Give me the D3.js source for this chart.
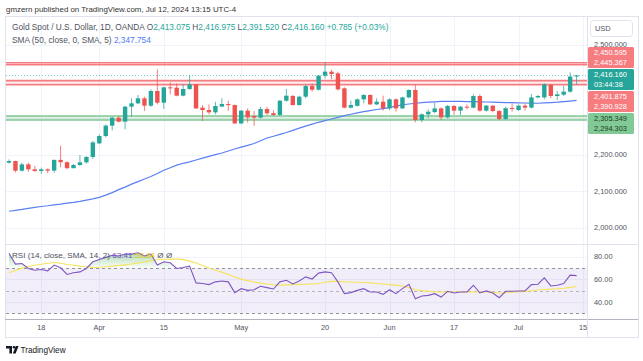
<!DOCTYPE html>
<html>
<head>
<meta charset="utf-8">
<script src="https://cdn.jsdelivr.net/npm/d3@7"></script>
<style>
  html, body { margin: 0; padding: 0; background: #fff; }
  svg { display: block; font-family: "Liberation Sans", Arial, sans-serif; }
</style>
</head>
<body>
<svg id="chart" width="643" height="361"></svg>
<script>
// daily bars, XAUUSD (OANDA), 2024-03-11 .. 2024-07-12
const firstDay = '2024-03-11'
const lastDay = '2024-07-15'           // one empty slot after the last bar (axis label "15")
const skipDays = ['2024-03-29']

const opens = [2177.7, 2182.2, 2155.8, 2173.1, 2159.5, 2155, 2159.5, 2156, 2185.3, 2179,
  2162.7, 2171.3, 2178.6, 2193.2, 2230.5, 2250.5, 2278.8, 2300.6, 2289.7, 2330.7,
  2339.8, 2353.5, 2333.4, 2373.5, 2341.6, 2383.5, 2382.6, 2360.7, 2379, 2391.7,
  2328, 2321.6, 2315.2, 2331, 2338, 2335, 2285, 2319.8, 2305, 2300.6,
  2324.3, 2313, 2308, 2347, 2360, 2335.2, 2358, 2387, 2377, 2415.4,
  2426.3, 2421.8, 2380.8, 2328, 2333, 2350.7, 2362.6, 2337, 2344.3, 2326,
  2350.7, 2326, 2356, 2376.2, 2294.3, 2309.7, 2316, 2326, 2301.5, 2332.5,
  2319.8, 2330.7, 2328, 2359.8, 2319.8, 2333.4, 2318.8, 2297, 2327, 2321.6,
  2333.4, 2328, 2356, 2356, 2390, 2359.8, 2363.5, 2371.7, 2413.075]
const highs = [2186.8, 2183, 2177.7, 2177.7, 2168.6, 2164, 2162, 2186, 2224, 2181,
  2174, 2198.6, 2196, 2237, 2255, 2282.4, 2303.4, 2305, 2332.5, 2353.5,
  2362.6, 2358, 2378, 2432.7, 2385.3, 2397, 2394.4, 2391.7, 2417, 2392.5,
  2335, 2337, 2344.3, 2353.5, 2347, 2337, 2321.6, 2326, 2318.8, 2330.7,
  2330.7, 2320.7, 2349, 2379, 2362.6, 2360.7, 2390, 2394.4, 2417, 2451.8,
  2431.8, 2426.3, 2383.5, 2347, 2353.5, 2365.3, 2364.4, 2353.5, 2360.7, 2353.5,
  2353.5, 2358, 2378, 2390, 2312.5, 2323.4, 2341.6, 2329, 2335.2, 2335.2,
  2332.5, 2337, 2364.4, 2364.4, 2335.2, 2335, 2321.6, 2330.7, 2339.8, 2337,
  2339.8, 2365.3, 2362.6, 2394.4, 2392.6, 2373.5, 2387, 2424.5, 2416.975]
const lows = [2175, 2151.3, 2153, 2153, 2153, 2147, 2149, 2150, 2165, 2160,
  2162, 2169, 2175, 2188, 2228, 2247, 2266, 2288, 2268.8, 2303.4,
  2338, 2318.8, 2329.8, 2337, 2324.3, 2364.4, 2359, 2359, 2377, 2324.3,
  2291.5, 2309.7, 2309.7, 2329, 2319.8, 2283.3, 2283, 2287, 2278, 2298.8,
  2308, 2305, 2306, 2344, 2333.4, 2333.4, 2353.5, 2371.7, 2374.4, 2408,
  2406.3, 2374.4, 2326, 2326, 2330.7, 2339.8, 2335, 2335, 2319.8, 2321.6,
  2317, 2324.3, 2353.5, 2288, 2288, 2298.8, 2312.5, 2294.3, 2298.8, 2308,
  2308, 2323.4, 2326, 2317, 2317, 2315.2, 2294.3, 2294.3, 2317, 2318.8,
  2319.8, 2326, 2353.5, 2350.7, 2353.5, 2349, 2359.8, 2368.9, 2391.52]
const closes = [2182.2, 2155.8, 2173.1, 2159.5, 2155, 2159.5, 2156, 2185.3, 2179, 2162.7,
  2171.3, 2178.6, 2193.2, 2233, 2250.5, 2278.8, 2300.6, 2289.7, 2330.7, 2339.8,
  2353.5, 2333.4, 2373.5, 2341.6, 2383.5, 2382.6, 2360.7, 2379, 2391.7, 2326,
  2321.6, 2315.2, 2332.5, 2338, 2335, 2285, 2319.8, 2301.5, 2300.6, 2324.3,
  2312.5, 2308, 2347, 2360.7, 2335.2, 2358, 2387, 2377, 2415.4, 2426.3,
  2420, 2378, 2328, 2335.2, 2350.7, 2362.6, 2337, 2344.3, 2326, 2350.7,
  2326, 2356, 2376.2, 2294.3, 2309.7, 2317, 2326, 2301.5, 2332.5, 2319.8,
  2330.7, 2328, 2359.8, 2319.8, 2333.4, 2318.8, 2297, 2326.5, 2326, 2333.4,
  2328, 2356, 2359.8, 2391.7, 2359.8, 2364.4, 2371.7, 2413.1, 2416.16]
const prevClose = 2415.375   // from the legend change (+0.785)

// SMA(50) as drawn on the chart
const sma50 = [2045, 2047.5, 2050, 2053, 2055.5, 2058, 2060, 2062.5, 2064.5, 2067,
  2069, 2072, 2075.5, 2079, 2083, 2089, 2096, 2104, 2111, 2119,
  2126, 2133, 2140, 2148, 2157, 2164, 2171, 2176, 2180, 2185,
  2190, 2195, 2199.5, 2204, 2209.5, 2215, 2220, 2225, 2230, 2237.5,
  2245, 2250, 2255, 2260, 2266, 2272, 2277.5, 2283, 2288, 2292.5,
  2297, 2301.5, 2306, 2310, 2313.5, 2317, 2320, 2323, 2325.5, 2328,
  2332, 2336, 2338, 2340, 2342, 2343, 2344, 2345, 2345, 2345,
  2345, 2344.7, 2344.3, 2344, 2343.5, 2343, 2342.5, 2342, 2341.5, 2341,
  2340.7, 2340.3, 2340, 2341, 2342, 2343, 2344.5, 2346, 2347.754]

// RSI(14) and its SMA(14)
const rsi = [83, 73.6, 74.1, 69.7, 68.2, 68.8, 67.6, 72.7, 70.3, 64.4,
  65.9, 66.7, 69.7, 75.6, 77.7, 79.5, 81.3, 80.7, 82.4, 82.4,
  83.6, 80.7, 82.4, 72.7, 75.6, 74.7, 69.7, 70.6, 71.8, 57,
  56.4, 55.5, 57.9, 58.7, 57.9, 48.4, 51.9, 50.4, 51, 54,
  52.8, 51.6, 57.9, 59.3, 56.1, 58.6, 62.3, 60.4, 65.6, 66.7,
  65.9, 57.9, 47.5, 48.4, 50.4, 51.9, 49, 49, 46.9, 51,
  47.5, 51.9, 55.8, 43, 45.4, 46, 47.5, 44.5, 49.6, 48.1,
  49, 49, 54.9, 48.1, 49.9, 48.1, 43.9, 49.6, 49.6, 49.9,
  49.9, 55.5, 55.8, 61.4, 54.3, 54.9, 56.4, 63.8, 63.41]
const rsiSma = [66, 68, 70, 71.5, 72.5, 73.5, 74.3, 75, 74.3, 73.2,
  72.6, 71.8, 71.2, 70.6, 70.8, 71.2, 71.8, 72.3, 72.9, 73.6,
  74.5, 75.4, 76.5, 77.4, 77.8, 78, 78, 77.7, 76.2, 74.5,
  72.3, 70.2, 68.3, 66.5, 64.4, 62.2, 60.3, 59, 57.8, 56.8,
  56, 55.4, 55, 55.2, 55.5, 55.7, 55.8, 56.1, 56.5, 57.5,
  58.3, 58.3, 58, 57.8, 57.6, 57.3, 57, 56.4, 56, 55.5,
  55, 54.2, 52.8, 51, 50.2, 49.6, 49.1, 49, 49, 49,
  49, 49, 49, 49, 49, 48.6, 48.1, 48.3, 48.8, 49.3,
  49.7, 50.1, 50.7, 51.1, 51.5, 51.8, 52.3, 53, 53.84]

// horizontal levels drawn on the chart
const resistLevels = [[2450.595, 2445.367], [2401.875, 2390.928]]
const supportLevels = [[2305.349, 2294.303]]
const countdown = '03:44:38'

const priceTicks = [2000, 2100, 2200, 2300, 2400, 2500]
const rsiTicks = [40, 60, 80]
const rsiBands = [70, 50, 30]
const tickDates = ['2024-03-18', '2024-04-01', '2024-04-15', '2024-05-01', '2024-05-20',
  '2024-06-03', '2024-06-17', '2024-07-01', '2024-07-15']
const tickLabels = ['18', 'Apr', '15', 'May', '20', 'Jun', '17', 'Jul', '15']

const UP = '#26a69a'
const DOWN = '#ef5350'
const GRID = '#f0f3fa'
const BORDER = '#e0e3eb'
const TXT = '#50535e'

// trading calendar (weekdays, minus closures)
const fmtDay = d3.utcFormat('%Y-%m-%d')
const slots = d3.utcDays(new Date(firstDay), d3.utcDay.offset(new Date(lastDay), 1))
  .filter(d => d.getUTCDay() % 6 !== 0)
  .map(fmtDay)
  .filter(d => !skipDays.includes(d))

const bars = closes.map((c, i) => ({
  i, date: slots[i], o: opens[i], h: highs[i], l: lows[i], c
}))

const svg = d3.select('#chart')

const plotL = 5, plotR = 587, axisR = 638
const priceTop = 16, priceBot = 244
const rsiTop = 244, rsiBot = 319.5
const frameBot = 337

const x = d3.scaleLinear().domain([0, slots.length - 1]).range([9, 9 + 6.45 * (slots.length - 1)])
const y = d3.scaleLinear().domain([1955.5, 2578.4]).range([priceBot, priceTop])
const yr = d3.scaleLinear().domain([24.7, 91.3]).range([rsiBot, rsiTop])

// publish line
svg.append('text')
  .attr('x', 6).attr('y', 12)
  .attr('font-size', 7.9).attr('fill', '#333')
  .text('gmzern published on TradingView.com, Jul 12, 2024 13:15 UTC-4')

// frame
svg.append('rect')
  .attr('x', plotL + 0.5).attr('y', priceTop + 0.5)
  .attr('width', axisR - plotL).attr('height', frameBot - priceTop)
  .attr('fill', 'none').attr('stroke', BORDER)

// grid
const grid = svg.append('g')
grid.selectAll('line.v').data(tickDates).join('line')
  .attr('class', 'v')
  .attr('x1', d => Math.round(x(slots.indexOf(d))) + 0.5)
  .attr('x2', d => Math.round(x(slots.indexOf(d))) + 0.5)
  .attr('y1', priceTop + 1).attr('y2', rsiBot)
  .attr('stroke', GRID)
grid.selectAll('line.h').data(priceTicks).join('line')
  .attr('class', 'h')
  .attr('x1', plotL + 1).attr('x2', plotR)
  .attr('y1', d => Math.round(y(d)) + 0.5).attr('y2', d => Math.round(y(d)) + 0.5)
  .attr('stroke', GRID)
grid.selectAll('line.r').data(rsiTicks).join('line')
  .attr('class', 'r')
  .attr('x1', plotL + 1).attr('x2', plotR)
  .attr('y1', d => Math.round(yr(d)) + 0.5).attr('y2', d => Math.round(yr(d)) + 0.5)
  .attr('stroke', GRID)

// level bands
const lev = svg.append('g')
function drawBand (pair, col, fill) {
  lev.append('rect')
    .attr('x', plotL + 1).attr('width', plotR - plotL - 1)
    .attr('y', y(pair[0])).attr('height', y(pair[1]) - y(pair[0]))
    .attr('fill', fill)
  pair.forEach(v => {
    lev.append('line')
      .attr('x1', plotL + 1).attr('x2', plotR)
      .attr('y1', y(v)).attr('y2', y(v))
      .attr('stroke', col).attr('stroke-width', 1.6)
  })
}
resistLevels.forEach(p => drawBand(p, '#f77c80', 'rgba(247,124,128,0.12)'))
supportLevels.forEach(p => drawBand(p, '#81c995', 'rgba(129,201,149,0.25)'))

// current price line
const last = bars[bars.length - 1]
svg.append('line')
  .attr('x1', plotL + 1).attr('x2', plotR)
  .attr('y1', Math.round(y(last.c)) + 0.5).attr('y2', Math.round(y(last.c)) + 0.5)
  .attr('stroke', UP).attr('stroke-opacity', 0.6)
  .attr('stroke-dasharray', '1,2')

// SMA 50
svg.append('path')
  .datum(sma50)
  .attr('fill', 'none').attr('stroke', '#5b7ff5').attr('stroke-width', 1.2)
  .attr('d', d3.line().x((d, i) => x(i)).y(d => y(d)))

// candles
const candle = svg.append('g').selectAll('g').data(bars).join('g')
  .attr('transform', d => `translate(${x(d.i)},0)`)
candle.append('line')
  .attr('y1', d => y(d.h)).attr('y2', d => y(d.l))
  .attr('stroke', d => d.c >= d.o ? UP : DOWN)
  .attr('stroke-opacity', 0.75)
candle.append('rect')
  .attr('x', -2.2).attr('width', 4.4)
  .attr('y', d => y(Math.max(d.o, d.c)))
  .attr('height', d => Math.max(1, Math.abs(y(d.o) - y(d.c))))
  .attr('fill', d => d.c >= d.o ? UP : DOWN)

// legend
const fmt = d3.format(',.3f')
const leg = svg.append('text').attr('x', 12).attr('y', 30).attr('font-size', 8.3)
leg.append('tspan').attr('fill', TXT).text('Gold Spot / U.S. Dollar, 1D, OANDA  ')
;[['O', last.o], ['H', last.h], ['L', last.l], ['C', last.c]].forEach(([k, v]) => {
  leg.append('tspan').attr('fill', TXT).text(k)
  leg.append('tspan').attr('fill', UP).text(fmt(v) + '  ')
})
const chg = last.c - prevClose
leg.append('tspan').attr('fill', UP)
  .text(`+${chg.toFixed(3)} (+${(chg / prevClose * 100).toFixed(2)}%)`)
const leg2 = svg.append('text').attr('x', 12).attr('y', 43).attr('font-size', 8.3)
leg2.append('tspan').attr('fill', TXT).text('SMA (50, close, 0, SMA, 5)  ')
leg2.append('tspan').attr('fill', '#4f7cf5').text(fmt(sma50[sma50.length - 1]))

// RSI pane
svg.append('line')
  .attr('x1', plotL).attr('x2', axisR)
  .attr('y1', rsiTop + 0.5).attr('y2', rsiTop + 0.5)
  .attr('stroke', BORDER)
svg.append('rect')
  .attr('x', plotL + 1).attr('width', plotR - plotL - 1)
  .attr('y', yr(70)).attr('height', yr(30) - yr(70))
  .attr('fill', '#7e57c2').attr('fill-opacity', 0.1)
svg.selectAll('line.band').data(rsiBands).join('line')
  .attr('class', 'band')
  .attr('x1', plotL + 1).attr('x2', plotR)
  .attr('y1', d => Math.round(yr(d)) + 0.5).attr('y2', d => Math.round(yr(d)) + 0.5)
  .attr('stroke', '#787b86').attr('stroke-opacity', d => d === 50 ? 0.5 : 0.8)
  .attr('stroke-dasharray', '3,3')

const defs = svg.append('defs')
const grad = defs.append('linearGradient').attr('id', 'ob')
  .attr('gradientUnits', 'userSpaceOnUse')
  .attr('x1', 0).attr('x2', 0).attr('y1', yr(88)).attr('y2', yr(70))
grad.append('stop').attr('offset', 0).attr('stop-color', '#4caf50').attr('stop-opacity', 0.6)
grad.append('stop').attr('offset', 1).attr('stop-color', '#4caf50').attr('stop-opacity', 0.02)
defs.append('clipPath').attr('id', 'above70')
  .append('rect').attr('x', plotL).attr('width', plotR - plotL)
  .attr('y', rsiTop).attr('height', yr(70) - rsiTop)
svg.append('path')
  .datum(rsi)
  .attr('clip-path', 'url(#above70)')
  .attr('fill', 'url(#ob)')
  .attr('d', d3.area().x((d, i) => x(i)).y0(yr(70)).y1(d => yr(d)))

svg.append('path')
  .datum(rsiSma)
  .attr('fill', 'none').attr('stroke', '#f5e35a').attr('stroke-width', 1.1)
  .attr('d', d3.line().x((d, i) => x(i)).y(d => yr(d)))
svg.append('path')
  .datum(rsi)
  .attr('fill', 'none').attr('stroke', '#7e57c2').attr('stroke-width', 1.1)
  .attr('d', d3.line().x((d, i) => x(i)).y(d => yr(d)))

const rleg = svg.append('text').attr('x', 12).attr('y', 257.8).attr('font-size', 8.1)
rleg.append('tspan').attr('fill', TXT).text('RSI (14, close, SMA, 14, 2)  ')
rleg.append('tspan').attr('fill', '#7e57c2').text(rsi[rsi.length - 1].toFixed(2) + '  ')
rleg.append('tspan').attr('fill', '#e8c400').text(rsiSma[rsiSma.length - 1].toFixed(2) + '  ')
rleg.append('tspan').attr('fill', TXT).text('Ø  Ø')

// time axis
svg.append('line')
  .attr('x1', plotL).attr('x2', axisR)
  .attr('y1', rsiBot).attr('y2', rsiBot)
  .attr('stroke', '#b2b5be')
svg.append('g').selectAll('text').data(tickDates).join('text')
  .attr('x', d => x(slots.indexOf(d)))
  .attr('y', 330)
  .attr('text-anchor', 'middle')
  .attr('font-size', 7.4).attr('fill', TXT)
  .text((d, i) => tickLabels[i])

// right price scale
svg.append('line')
  .attr('x1', plotR + 0.5).attr('x2', plotR + 0.5)
  .attr('y1', priceTop).attr('y2', frameBot)
  .attr('stroke', BORDER)
svg.append('rect')
  .attr('x', 590.5).attr('y', 20.5).attr('width', 42).attr('height', 16).attr('rx', 3)
  .attr('fill', '#fff').attr('stroke', BORDER)
svg.append('text').attr('x', 595).attr('y', 31.2)
  .attr('font-size', 7.4).attr('fill', TXT).text('USD')

// price labels: current price stays put, others stack away from it
const rowH = 10.5
const boxes = [
  ...resistLevels.map(p => ({ vals: p, fill: '#f77c80', ink: '#fff' })),
  ...supportLevels.map(p => ({ vals: p, fill: '#81c995', ink: '#1b3d22' })),
  { vals: [last.c], sub: countdown, fill: UP, ink: '#fff', anchor: true }
]
boxes.forEach(b => {
  const ys = b.vals.map(y)
  b.center = d3.mean(ys)
  b.top = b.anchor ? ys[0] - 6.5 : b.center - rowH
  b.h = rowH * 2
})
boxes.sort((a, b) => a.center - b.center)
const ai = boxes.findIndex(b => b.anchor)
for (let k = ai - 1; k >= 0; k--) {
  const bottom = Math.min(boxes[k].top + boxes[k].h, boxes[k + 1].top - 1)
  boxes[k].top = bottom - boxes[k].h
}
for (let k = ai + 1; k < boxes.length; k++) {
  boxes[k].top = Math.max(boxes[k].top, boxes[k - 1].top + boxes[k - 1].h + 1)
}

// tick labels hidden under the boxes
const free = v => !boxes.some(b => y(v) > b.top - 1 && y(v) < b.top + b.h + 1)
svg.append('g').selectAll('text').data(priceTicks.filter(free)).join('text')
  .attr('x', 594).attr('y', d => y(d) + 2.6)
  .attr('font-size', 7.4).attr('fill', TXT)
  .text(d => fmt(d))
svg.append('g').selectAll('text').data(rsiTicks).join('text')
  .attr('x', 594).attr('y', d => yr(d) + 2.6)
  .attr('font-size', 7.4).attr('fill', TXT)
  .text(d => d.toFixed(2))

const lab = svg.append('g').selectAll('g').data(boxes).join('g')
lab.append('rect')
  .attr('x', plotR + 1).attr('width', 46)
  .attr('y', d => d.top).attr('height', d => d.h)
  .attr('rx', 1.5)
  .attr('fill', d => d.fill)
lab.each(function (d) {
  const g = d3.select(this)
  const rows = d.sub ? [fmt(d.vals[0]), d.sub] : d.vals.map(fmt)
  rows.forEach((t, k) => {
    g.append('text')
      .attr('x', 594).attr('y', d.top + 8 + k * rowH)
      .attr('font-size', 7.4).attr('fill', d.ink)
      .text(t)
  })
})

// footer logo
const logo = svg.append('g').attr('transform', 'translate(6,346)')
logo.append('path').attr('d', 'M0,0 H6 V7.5 H3.4 V2.4 H0 Z').attr('fill', '#131722')
logo.append('circle').attr('cx', 8).attr('cy', 1.3).attr('r', 1.3).attr('fill', '#131722')
logo.append('path').attr('d', 'M9.8,0 H12.6 L9.6,7.5 H6.8 Z').attr('fill', '#131722')
svg.append('text').attr('x', 20.5).attr('y', 353.3)
  .attr('font-size', 8.2).attr('fill', '#131722').text('TradingView')
</script>
</body>
</html>
